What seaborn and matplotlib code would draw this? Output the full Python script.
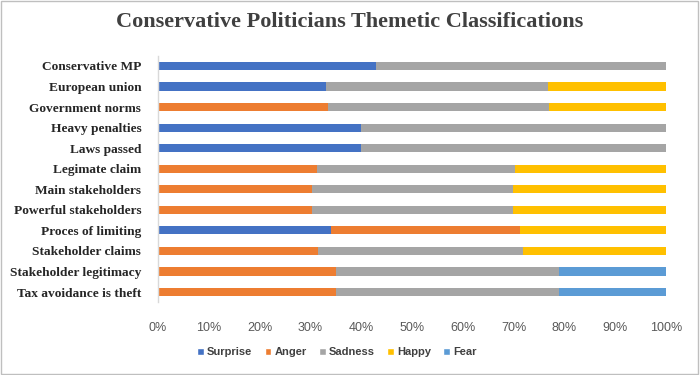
import matplotlib
matplotlib.use("Agg")
import matplotlib.pyplot as plt
import seaborn as sns
import pandas as pd
import numpy as np
from matplotlib.patches import Rectangle, Patch

categories = ["Conservative MP", "European union", "Government norms", "Heavy penalties",
              "Laws passed", "Legimate claim", "Main stakeholders", "Powerful stakeholders",
              "Proces of limiting", "Stakeholder claims", "Stakeholder legitimacy",
              "Tax avoidance is theft"]
surprise = [43, 33, 0, 40, 40, 0, 0, 0, 34, 0, 0, 0]
anger    = [0, 0, 33.5, 0, 0, 31.3, 30.3, 30.3, 37.2, 31.4, 35, 35]
sadness  = [57, 43.7, 43.5, 60, 60, 39, 39.6, 39.6, 0, 40.5, 43.9, 43.9]
happy    = [0, 23.3, 23, 0, 0, 29.7, 30.1, 30.1, 28.8, 28.1, 0, 0]
fear     = [0, 0, 0, 0, 0, 0, 0, 0, 0, 0, 21.1, 21.1]
series_names = ["Surprise", "Anger", "Sadness", "Happy", "Fear"]
colors = ["#4472C4", "#ED7D31", "#A5A5A5", "#FFC000", "#5B9BD5"]
xticks = [0, 10, 20, 30, 40, 50, 60, 70, 80, 90, 100]

df = pd.DataFrame({"category": categories, "Surprise": surprise, "Anger": anger,
                   "Sadness": sadness, "Happy": happy, "Fear": fear})
cum = df[series_names].cumsum(axis=1)
for s in series_names:
    df[s + "_cum"] = cum[s]

sns.set_theme(style="white")
fig = plt.figure(figsize=(7, 3.75), dpi=100)
ax = fig.add_axes([158/700, 1-302.3/375, (666-158)/700, (302.3-55.7)/375])

for s, c in reversed(list(zip(series_names, colors))):
    sns.barplot(data=df, x=s + "_cum", y="category", color=c, orient="h",
                width=0.4, ax=ax, saturation=1, order=categories, linewidth=0)

ax.set_xlim(0, 100)
ax.set_ylim(11.5, -0.5)
ax.set_xticks(xticks)
ax.set_xticklabels([f"{t}%" for t in xticks], fontsize=9, color="#595959",
                   family="Liberation Sans")
ax.set_yticks(range(len(categories)))
ax.set_yticklabels(categories, fontsize=9.6, fontweight="bold", color="#262626",
                   family="Liberation Serif")
ax.tick_params(axis="x", length=0, pad=14)
ax.tick_params(axis="y", length=0, pad=12)
ax.set_xlabel("")
ax.set_ylabel("")
for sp in ["top", "right", "bottom"]:
    ax.spines[sp].set_visible(False)
ax.spines["left"].set_color("#D9D9D9")
ax.spines["left"].set_linewidth(1)
ax.grid(False)

fig.suptitle("Conservative Politicians Themetic Classifications", y=1-22/375, va="center",
             fontsize=16, fontweight="bold", color="#404040", family="Liberation Serif")

handles = [Patch(facecolor=c, label=s) for s, c in zip(series_names, colors)]
fig.legend(handles=handles, loc="center", bbox_to_anchor=(337/700, 1-352/375), ncol=5,
           frameon=False, handlelength=0.6, handleheight=0.6, handletextpad=0.3,
           columnspacing=1.1, prop={"family": "Liberation Sans", "size": 8, "weight": "bold"},
           labelcolor="#404040")

fig.patches.append(Rectangle((0.002, 0.003), 0.995, 0.994, transform=fig.transFigure,
                             fill=False, edgecolor="#BFBFBF", linewidth=1))
fig.savefig("out.png", dpi=100)
